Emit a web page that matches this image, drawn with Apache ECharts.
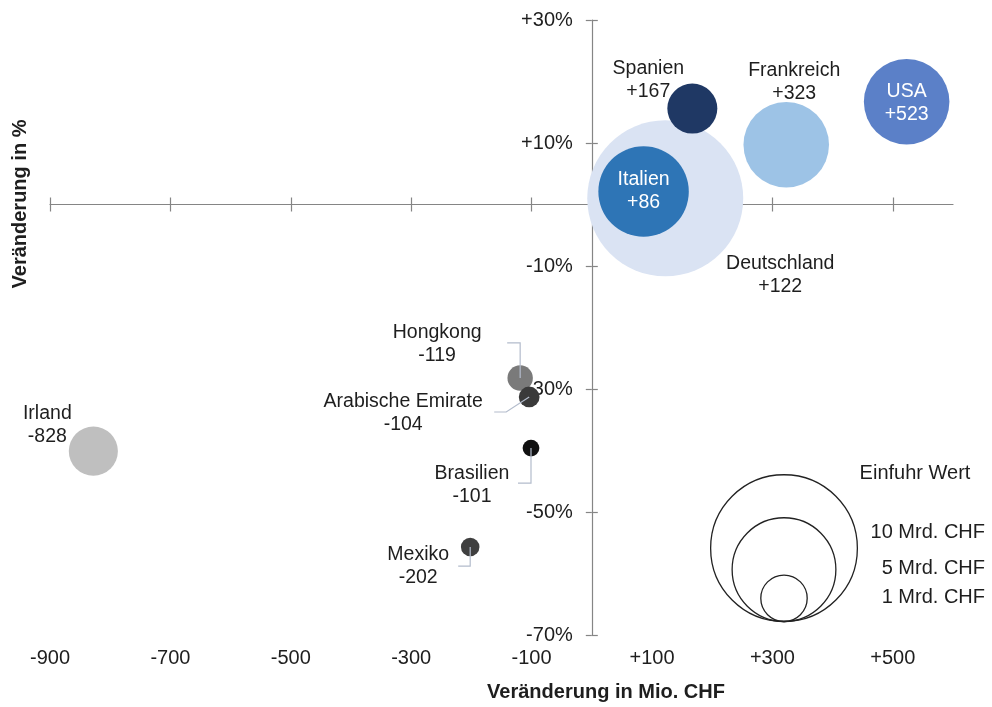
<!DOCTYPE html>
<html>
<head>
<meta charset="utf-8">
<script src="https://cdn.jsdelivr.net/npm/echarts@6/dist/echarts.min.js"></script>
<style>html,body{margin:0;padding:0;background:#fff}#c{width:992px;height:707px}</style>
</head>
<body>
<div id="c"></div>
<script>
// ---- data ----
const countries = ['Deutschland', 'Italien', 'Spanien', 'Frankreich', 'USA', 'Irland', 'Hongkong', 'Arabische Emirate', 'Brasilien', 'Mexiko'];
const changeMioCHF = [122, 86, 167, 323, 523, -828, -119, -104, -101, -202];
const changePct = [1.0, 2.1, 15.6, 9.7, 16.7, -40.1, -28.2, -31.3, -39.6, -55.7];
const importMrdCHF = [11.3, 3.8, 1.16, 3.4, 3.4, 1.12, 0.3, 0.2, 0.13, 0.16];
const xTickValues = [-900, -700, -500, -300, -100, 100, 300, 500];
const yTickValues = [-70, -50, -30, -10, 10, 30];
const legendValues = [10, 5, 1];
const legendLabels = ['10 Mrd. CHF', '5 Mrd. CHF', '1 Mrd. CHF'];

// ---- styles ----
const FONT = '"Liberation Sans", Arial, Helvetica, sans-serif';
const TEXT = '#1e1e1e';
const AXIS = '#858585';
const R_PER_SQRT = 23.2; // px radius per sqrt(Mrd. CHF)
const radius = v => R_PER_SQRT * Math.sqrt(v);
const colors = {
  'Deutschland': '#dae3f3', 'Italien': '#2e75b6', 'Spanien': '#1f3864', 'Frankreich': '#9dc3e6',
  'USA': '#5b80c8', 'Irland': '#bfbfbf', 'Hongkong': '#7a7a7a', 'Arabische Emirate': '#3a3a3a',
  'Brasilien': '#111111', 'Mexiko': '#3f3f3f'
};
const labelOffsets = {
  'Deutschland': [115, 77], 'Italien': [0, 0], 'Spanien': [-44, -28], 'Frankreich': [8, -63],
  'USA': [0, 1], 'Irland': [-46, -26], 'Hongkong': [-83, -34], 'Arabische Emirate': [-126, 16],
  'Brasilien': [-59, 37], 'Mexiko': [-52, 19]
};
const insideWhite = { 'Italien': true, 'USA': true };
const leaders = {
  'Hongkong': [[-13, -35], [0, -35], [0, 0]],
  'Arabische Emirate': [[-35, 15], [-23, 15], [0, 0]],
  'Brasilien': [[-13, 35], [0, 35], [0, 0]],
  'Mexiko': [[-12, 19], [0, 19], [0, 0]]
};

const sign = v => (v > 0 ? '+' : '') + v;

const seriesData = countries.map((name, i) => ({
  name: name,
  value: [changeMioCHF[i], changePct[i], importMrdCHF[i]],
  symbolSize: 2 * radius(importMrdCHF[i]),
  itemStyle: { color: colors[name], opacity: 1 },
  label: {
    show: true,
    position: 'inside',
    offset: labelOffsets[name],
    color: insideWhite[name] ? '#ffffff' : TEXT,
    fontSize: 19.5,
    fontFamily: FONT,
    lineHeight: 23,
    align: 'center',
    formatter: p => p.name + '\n' + sign(p.value[0])
  }
}));

const GRID = { left: 50, right: 39, top: 20, bottom: 72 };
const X_MIN = -900, X_MAX = 600;
const axisLineStyle = { color: AXIS, width: 1.2 };
// pixel distance of x = 0 from grid left (for the y label axis)
const zeroOffset = (0 - X_MIN) / (X_MAX - X_MIN) * (992 - GRID.left - GRID.right);

const chart = echarts.init(document.getElementById('c'));

chart.setOption({
  animation: false,
  backgroundColor: '#ffffff',
  grid: Object.assign({ containLabel: false, outerBoundsMode: 'none' }, GRID),
  xAxis: [
    { type: 'value', min: X_MIN, max: X_MAX, position: 'bottom',
      axisLine: { show: true, onZero: true, onZeroAxisIndex: 0, lineStyle: axisLineStyle },
      axisTick: { show: true, customValues: xTickValues, length: 7, lineStyle: axisLineStyle },
      axisLabel: { show: false }, splitLine: { show: false } },
    { type: 'value', min: X_MIN, max: X_MAX, position: 'top',
      axisLine: { show: false, onZero: true, onZeroAxisIndex: 0 },
      axisTick: { show: true, customValues: xTickValues, length: 7, lineStyle: axisLineStyle },
      axisLabel: { show: false }, splitLine: { show: false } },
    { type: 'value', min: X_MIN, max: X_MAX, position: 'bottom',
      axisLine: { show: false, onZero: false },
      axisTick: { show: false },
      axisLabel: { show: true, customValues: xTickValues, formatter: v => sign(v), margin: 13,
        color: TEXT, fontSize: 20, fontFamily: FONT },
      splitLine: { show: false } }
  ],
  yAxis: [
    { type: 'value', min: -70, max: 30, position: 'left',
      axisLine: { show: true, onZero: true, onZeroAxisIndex: 0, lineStyle: axisLineStyle },
      axisTick: { show: true, customValues: yTickValues, length: 6, lineStyle: axisLineStyle },
      axisLabel: { show: false }, splitLine: { show: false } },
    { type: 'value', min: -70, max: 30, position: 'right',
      axisLine: { show: false, onZero: true, onZeroAxisIndex: 0 },
      axisTick: { show: true, customValues: yTickValues, length: 6, lineStyle: axisLineStyle },
      axisLabel: { show: false }, splitLine: { show: false } },
    { type: 'value', min: -70, max: 30, position: 'left', offset: -zeroOffset,
      axisLine: { show: false, onZero: false },
      axisTick: { show: false },
      axisLabel: { show: true, customValues: yTickValues, formatter: v => sign(v) + '%', margin: 19,
        color: TEXT, fontSize: 20, fontFamily: FONT },
      splitLine: { show: false } }
  ],
  series: [{
    type: 'scatter',
    xAxisIndex: 0, yAxisIndex: 0,
    symbol: 'circle',
    data: seriesData,
    z: 3
  }]
});

// graphics: leader lines, axis titles, bubble-size legend
const graphics = [];
countries.forEach((name, i) => {
  if (!leaders[name]) return;
  const c = chart.convertToPixel({ seriesIndex: 0 }, [changeMioCHF[i], changePct[i]]);
  graphics.push({
    type: 'polyline', z: 100, silent: true,
    shape: { points: leaders[name].map(d => [c[0] + d[0], c[1] + d[1]]) },
    style: { stroke: '#b3bccc', lineWidth: 1.2, fill: null }
  });
});
graphics.push({
  type: 'text', x: 606, y: 692, z: 100,
  style: { text: 'Veränderung in Mio. CHF', fill: TEXT, fontSize: 20, fontWeight: 'bold', fontFamily: FONT, align: 'center', verticalAlign: 'middle' }
});
graphics.push({
  type: 'text', x: 20, y: 204, rotation: Math.PI / 2, z: 100,
  style: { text: 'Veränderung in %', fill: TEXT, fontSize: 20, fontWeight: 'bold', fontFamily: FONT, align: 'center', verticalAlign: 'middle' }
});
// legend
const legCx = 784, legBottom = 621.5;
legendValues.forEach(v => {
  const r = radius(v);
  graphics.push({
    type: 'circle', z: 100, silent: true,
    shape: { cx: legCx, cy: legBottom - r, r: r },
    style: { stroke: '#222222', lineWidth: 1.3, fill: null }
  });
});
graphics.push({
  type: 'text', x: 915, y: 473, z: 100,
  style: { text: 'Einfuhr Wert', fill: TEXT, fontSize: 20, fontFamily: FONT, align: 'center', verticalAlign: 'middle' }
});
const legLabelY = [532, 568, 597];
legendLabels.forEach((t, k) => {
  graphics.push({
    type: 'text', x: 985, y: legLabelY[k], z: 100,
    style: { text: t, fill: TEXT, fontSize: 20, fontFamily: FONT, align: 'right', verticalAlign: 'middle' }
  });
});
chart.setOption({ graphic: graphics });
</script>
</body>
</html>
